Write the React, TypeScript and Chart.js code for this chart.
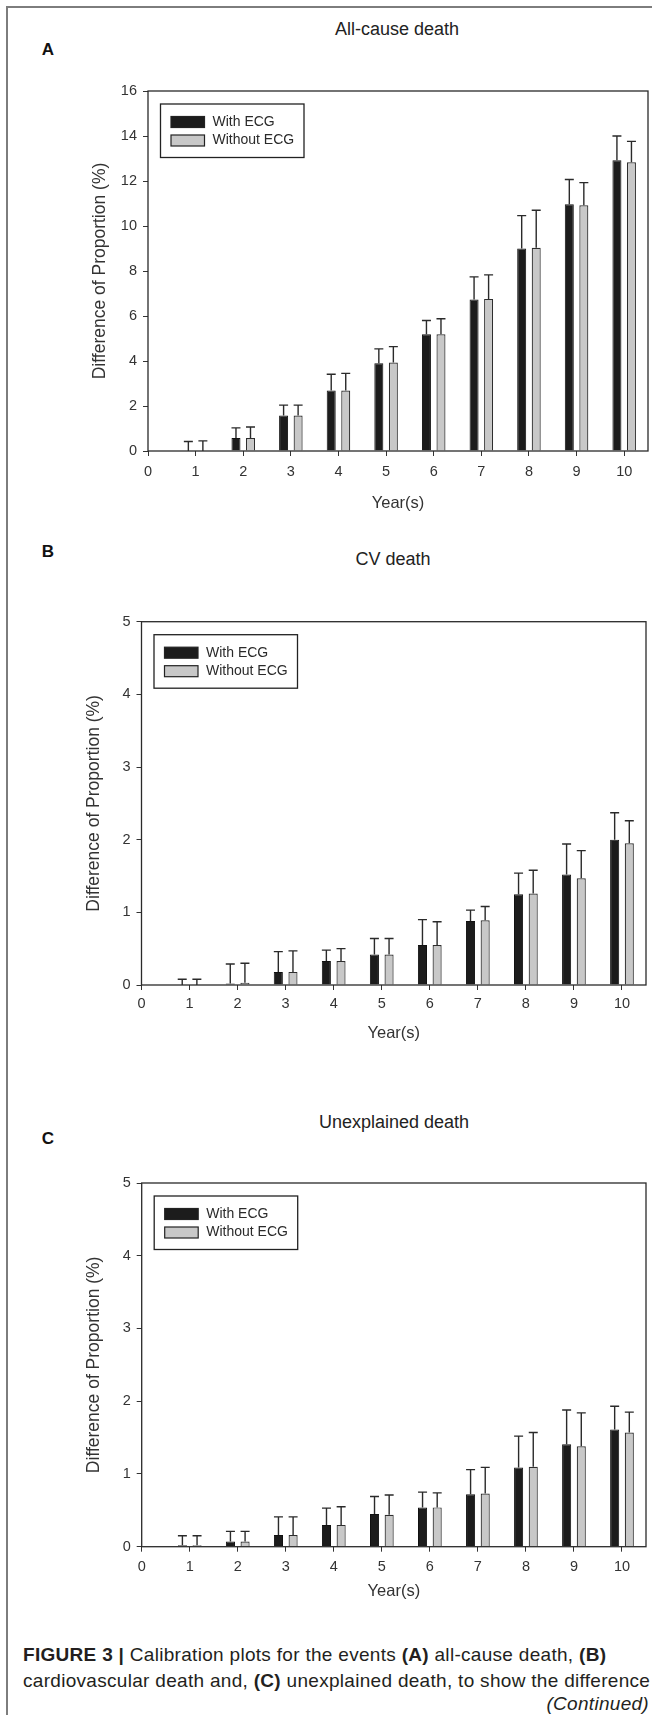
import React, { useEffect, useRef } from "react";
import { Chart, registerables } from "chart.js";

Chart.register(...registerables);

const FONT = "'Liberation Sans', Arial, Helvetica, sans-serif";

// ---------- data ----------
const years = [1, 2, 3, 4, 5, 6, 7, 8, 9, 10];
const xTickValues = [0, 1, 2, 3, 4, 5, 6, 7, 8, 9, 10];
const seriesNames = ["With ECG", "Without ECG"];
const xAxisTitle = "Year(s)";
const yAxisTitle = "Difference of Proportion (%)";

const yTicksA = [0, 2, 4, 6, 8, 10, 12, 14, 16];
const yTicksBC = [0, 1, 2, 3, 4, 5];

const allCauseWith = [0, 0.58, 1.58, 2.69, 3.9, 5.19, 6.73, 9.0, 10.97, 12.92];
const allCauseWithout = [0, 0.58, 1.58, 2.69, 3.93, 5.19, 6.76, 9.03, 10.92, 12.83];
const allCauseWithUpper = [0.42, 1.03, 2.04, 3.41, 4.54, 5.8, 7.74, 10.46, 12.07, 14.0];
const allCauseWithoutUpper = [0.45, 1.07, 2.04, 3.45, 4.64, 5.88, 7.83, 10.7, 11.93, 13.76];

const cvWith = [0, 0.02, 0.18, 0.33, 0.42, 0.55, 0.88, 1.25, 1.52, 2.0];
const cvWithout = [0, 0.03, 0.18, 0.33, 0.42, 0.55, 0.89, 1.26, 1.47, 1.95];
const cvWithUpper = [0.08, 0.29, 0.46, 0.48, 0.64, 0.9, 1.03, 1.54, 1.94, 2.37];
const cvWithoutUpper = [0.08, 0.3, 0.47, 0.5, 0.64, 0.87, 1.08, 1.58, 1.85, 2.26];

const unexplainedWith = [0.02, 0.07, 0.16, 0.3, 0.45, 0.54, 0.72, 1.09, 1.41, 1.61];
const unexplainedWithout = [0.02, 0.07, 0.16, 0.3, 0.44, 0.54, 0.73, 1.1, 1.38, 1.57];
const unexplainedWithUpper = [0.15, 0.21, 0.41, 0.53, 0.69, 0.75, 1.06, 1.52, 1.88, 1.93];
const unexplainedWithoutUpper = [0.15, 0.21, 0.41, 0.55, 0.71, 0.74, 1.09, 1.57, 1.84, 1.85];

// ---------- plugins ----------
const framePlugin = {
  id: "frame",
  afterDraw(chart: any) {
    const { ctx, chartArea } = chart;
    ctx.save();
    ctx.strokeStyle = "#2a2a2a";
    ctx.lineWidth = 1.3;
    ctx.strokeRect(chartArea.left, chartArea.top, chartArea.right - chartArea.left, chartArea.bottom - chartArea.top);
    ctx.restore();
  },
};

const errorBarPlugin = {
  id: "errorBars",
  afterDatasetsDraw(chart: any) {
    const ctx = chart.ctx;
    const yScale = chart.scales.y;
    ctx.save();
    ctx.strokeStyle = "#2a2a2a";
    ctx.lineWidth = 1.4;
    chart.data.datasets.forEach((ds: any, i: number) => {
      const meta = chart.getDatasetMeta(i);
      meta.data.forEach((el: any, j: number) => {
        const up = yScale.getPixelForValue(ds.errorUpper[j]);
        ctx.beginPath();
        ctx.moveTo(el.x, el.y);
        ctx.lineTo(el.x, up);
        ctx.moveTo(el.x - 4.5, up);
        ctx.lineTo(el.x + 4.5, up);
        ctx.stroke();
      });
    });
    ctx.restore();
  },
};

const boxLegendPlugin = {
  id: "boxLegend",
  afterDraw(chart: any) {
    const { ctx, chartArea } = chart;
    const bx = chartArea.left + 12.5;
    const by = chartArea.top + 13;
    const bw = 143.5;
    const bh = 53.5;
    ctx.save();
    ctx.fillStyle = "#ffffff";
    ctx.fillRect(bx, by, bw, bh);
    ctx.strokeStyle = "#222";
    ctx.lineWidth = 1.3;
    ctx.strokeRect(bx, by, bw, bh);
    chart.data.datasets.forEach((ds: any, i: number) => {
      const sy = by + 12.5 + i * 18.5;
      ctx.fillStyle = ds.backgroundColor;
      ctx.fillRect(bx + 10.5, sy, 33.5, 11);
      ctx.strokeStyle = "#222";
      ctx.lineWidth = 1.2;
      ctx.strokeRect(bx + 10.5, sy, 33.5, 11);
      ctx.fillStyle = "#2a2a2a";
      ctx.font = `14px ${FONT}`;
      ctx.textBaseline = "middle";
      ctx.textAlign = "left";
      ctx.fillText(ds.label, bx + 52, sy + 5.5);
    });
    ctx.restore();
  },
};

// ---------- panel ----------
type Layout = {
  left: number;
  right: number;
  top: number;
  bottom: number;
  yTitleX: number;
  xLabelY: number;
  xTitleY: number;
};

const W = 652;

function Panel(props: {
  layout: Layout;
  withVals: number[];
  withoutVals: number[];
  withUpper: number[];
  withoutUpper: number[];
  yTicks: number[];
}) {
  const { layout, withVals, withoutVals, withUpper, withoutUpper, yTicks } = props;
  const ref = useRef<HTMLCanvasElement>(null);
  const canvasTop = Math.floor(layout.top - 20);
  const canvasBottom = Math.ceil(layout.xTitleY + 20);
  const H = canvasBottom - canvasTop;

  useEffect(() => {
    const tickSize = 14.5;
    const tickFont = { family: FONT, size: tickSize };
    const titleFont = { family: FONT, size: 16.5 };
    const yTitleFont = { family: FONT, size: 17.5 };
    const xPad = layout.xLabelY - layout.bottom - 5 - (tickSize * 1.2) / 2;
    const chart = new Chart(ref.current as HTMLCanvasElement, {
      type: "bar",
      data: {
        datasets: [
          {
            label: seriesNames[0],
            data: years.map((x, i) => ({ x, y: withVals[i] })),
            errorUpper: withUpper,
            backgroundColor: "#1c1c1c",
            borderColor: "#111111",
            borderWidth: 1,
            categoryPercentage: 0.61,
            barPercentage: 0.62,
          } as any,
          {
            label: seriesNames[1],
            data: years.map((x, i) => ({ x, y: withoutVals[i] })),
            errorUpper: withoutUpper,
            backgroundColor: "#c8c8c8",
            borderColor: "#2e2e2e",
            borderWidth: 1.2,
            categoryPercentage: 0.61,
            barPercentage: 0.62,
          } as any,
        ],
      },
      options: {
        animation: false,
        responsive: false,
        maintainAspectRatio: false,
        layout: {
          padding: { top: layout.top - canvasTop, right: W - layout.right, left: 0, bottom: 0 },
        },
        plugins: {
          legend: { display: false },
          tooltip: { enabled: false },
          title: { display: false },
        },
        scales: {
          x: {
            type: "linear",
            min: 0,
            max: 10.5,
            offset: false,
            afterBuildTicks: (s: any) => {
              s.ticks = xTickValues.map((v) => ({ value: v }));
            },
            afterFit: (s: any) => {
              s.height = canvasBottom - layout.bottom;
            },
            grid: { offset: false, drawOnChartArea: false, drawTicks: true, tickLength: 5, color: "#333", lineWidth: 1 },
            border: { display: false },
            ticks: { font: tickFont, color: "#333", padding: xPad, maxRotation: 0, autoSkip: false },
            title: {
              display: true,
              text: xAxisTitle,
              font: titleFont,
              color: "#333",
              padding: { top: 0, bottom: canvasBottom - layout.xTitleY - (16.5 * 1.2) / 2 },
            },
          },
          y: {
            type: "linear",
            min: yTicks[0],
            max: yTicks[yTicks.length - 1],
            afterBuildTicks: (s: any) => {
              s.ticks = yTicks.map((v) => ({ value: v }));
            },
            afterFit: (s: any) => {
              s.width = layout.left;
            },
            grid: { drawOnChartArea: false, drawTicks: true, tickLength: 5, color: "#333", lineWidth: 1 },
            border: { display: false },
            ticks: { font: tickFont, color: "#333", padding: 6, autoSkip: false },
            title: {
              display: true,
              text: yAxisTitle,
              font: yTitleFont,
              color: "#333",
              padding: { top: layout.yTitleX - (17.5 * 1.2) / 2, bottom: 0 },
            },
          },
        },
      } as any,
      plugins: [framePlugin, errorBarPlugin, boxLegendPlugin],
    });
    return () => chart.destroy();
  }, []);

  return (
    <canvas
      ref={ref}
      width={W}
      height={H}
      style={{ position: "absolute", left: 0, top: canvasTop, width: W, height: H }}
    />
  );
}

function Txt(props: {
  x: number;
  y: number;
  size: number;
  bold?: boolean;
  italic?: boolean;
  align?: "left" | "center" | "right";
  children: any;
  color?: string;
  spacing?: number;
}) {
  const { x, y, size, bold, italic, align = "left", children, color = "#222", spacing = 0 } = props;
  const lh = size * 1.2;
  const style: any = {
    position: "absolute",
    top: y - lh / 2,
    lineHeight: `${lh}px`,
    fontSize: size,
    fontFamily: FONT,
    fontWeight: bold ? "bold" : "normal",
    fontStyle: italic ? "italic" : "normal",
    letterSpacing: spacing,
    color,
    whiteSpace: "nowrap",
  };
  if (align === "left") style.left = x;
  else if (align === "right") style.right = W - x;
  else {
    style.left = x - 200;
    style.width = 400;
    style.textAlign = "center";
  }
  return <div style={style}>{children}</div>;
}

export default function App() {
  const layoutA: Layout = { left: 148, right: 648, top: 91, bottom: 451, yTitleX: 100, xLabelY: 471.5, xTitleY: 503 };
  const layoutB: Layout = { left: 141.5, right: 646, top: 621.7, bottom: 985, yTitleX: 94, xLabelY: 1004, xTitleY: 1033 };
  const layoutC: Layout = { left: 141.7, right: 646, top: 1183, bottom: 1546.7, yTitleX: 94, xLabelY: 1566.5, xTitleY: 1591.7 };

  return (
    <div style={{ position: "absolute", left: 0, top: 0, width: W, height: 1715, overflow: "hidden", background: "#fff" }}>
      <div
        style={{
          position: "absolute",
          left: 6,
          top: 6,
          width: W - 6,
          height: 1715 - 6,
          borderLeft: "2px solid #7d7d7d",
          borderTop: "2px solid #7d7d7d",
          boxSizing: "border-box",
        }}
      />
      <Txt x={48} y={50} size={17} bold align="center" color="#111">A</Txt>
      <Txt x={397} y={30} size={18} align="center">All-cause death</Txt>
      <Panel layout={layoutA} withVals={allCauseWith} withoutVals={allCauseWithout} withUpper={allCauseWithUpper} withoutUpper={allCauseWithoutUpper} yTicks={yTicksA} />

      <Txt x={48} y={552} size={17} bold align="center" color="#111">B</Txt>
      <Txt x={393} y={560} size={18} align="center">CV death</Txt>
      <Panel layout={layoutB} withVals={cvWith} withoutVals={cvWithout} withUpper={cvWithUpper} withoutUpper={cvWithoutUpper} yTicks={yTicksBC} />

      <Txt x={48} y={1139} size={17} bold align="center" color="#111">C</Txt>
      <Txt x={394} y={1123} size={18} align="center">Unexplained death</Txt>
      <Panel layout={layoutC} withVals={unexplainedWith} withoutVals={unexplainedWithout} withUpper={unexplainedWithUpper} withoutUpper={unexplainedWithoutUpper} yTicks={yTicksBC} />

      <Txt x={23} y={1655} size={19} spacing={0.3} color="#231f20">
        <b>FIGURE 3 |</b> Calibration plots for the events <b>(A)</b> all-cause death, <b>(B)</b>
      </Txt>
      <Txt x={23} y={1681} size={19} spacing={0.3} color="#231f20">
        cardiovascular death and, <b>(C)</b> unexplained death, to show the difference
      </Txt>
      <Txt x={649} y={1704} size={19} spacing={0.3} italic align="right" color="#231f20">(Continued)</Txt>
    </div>
  );
}
